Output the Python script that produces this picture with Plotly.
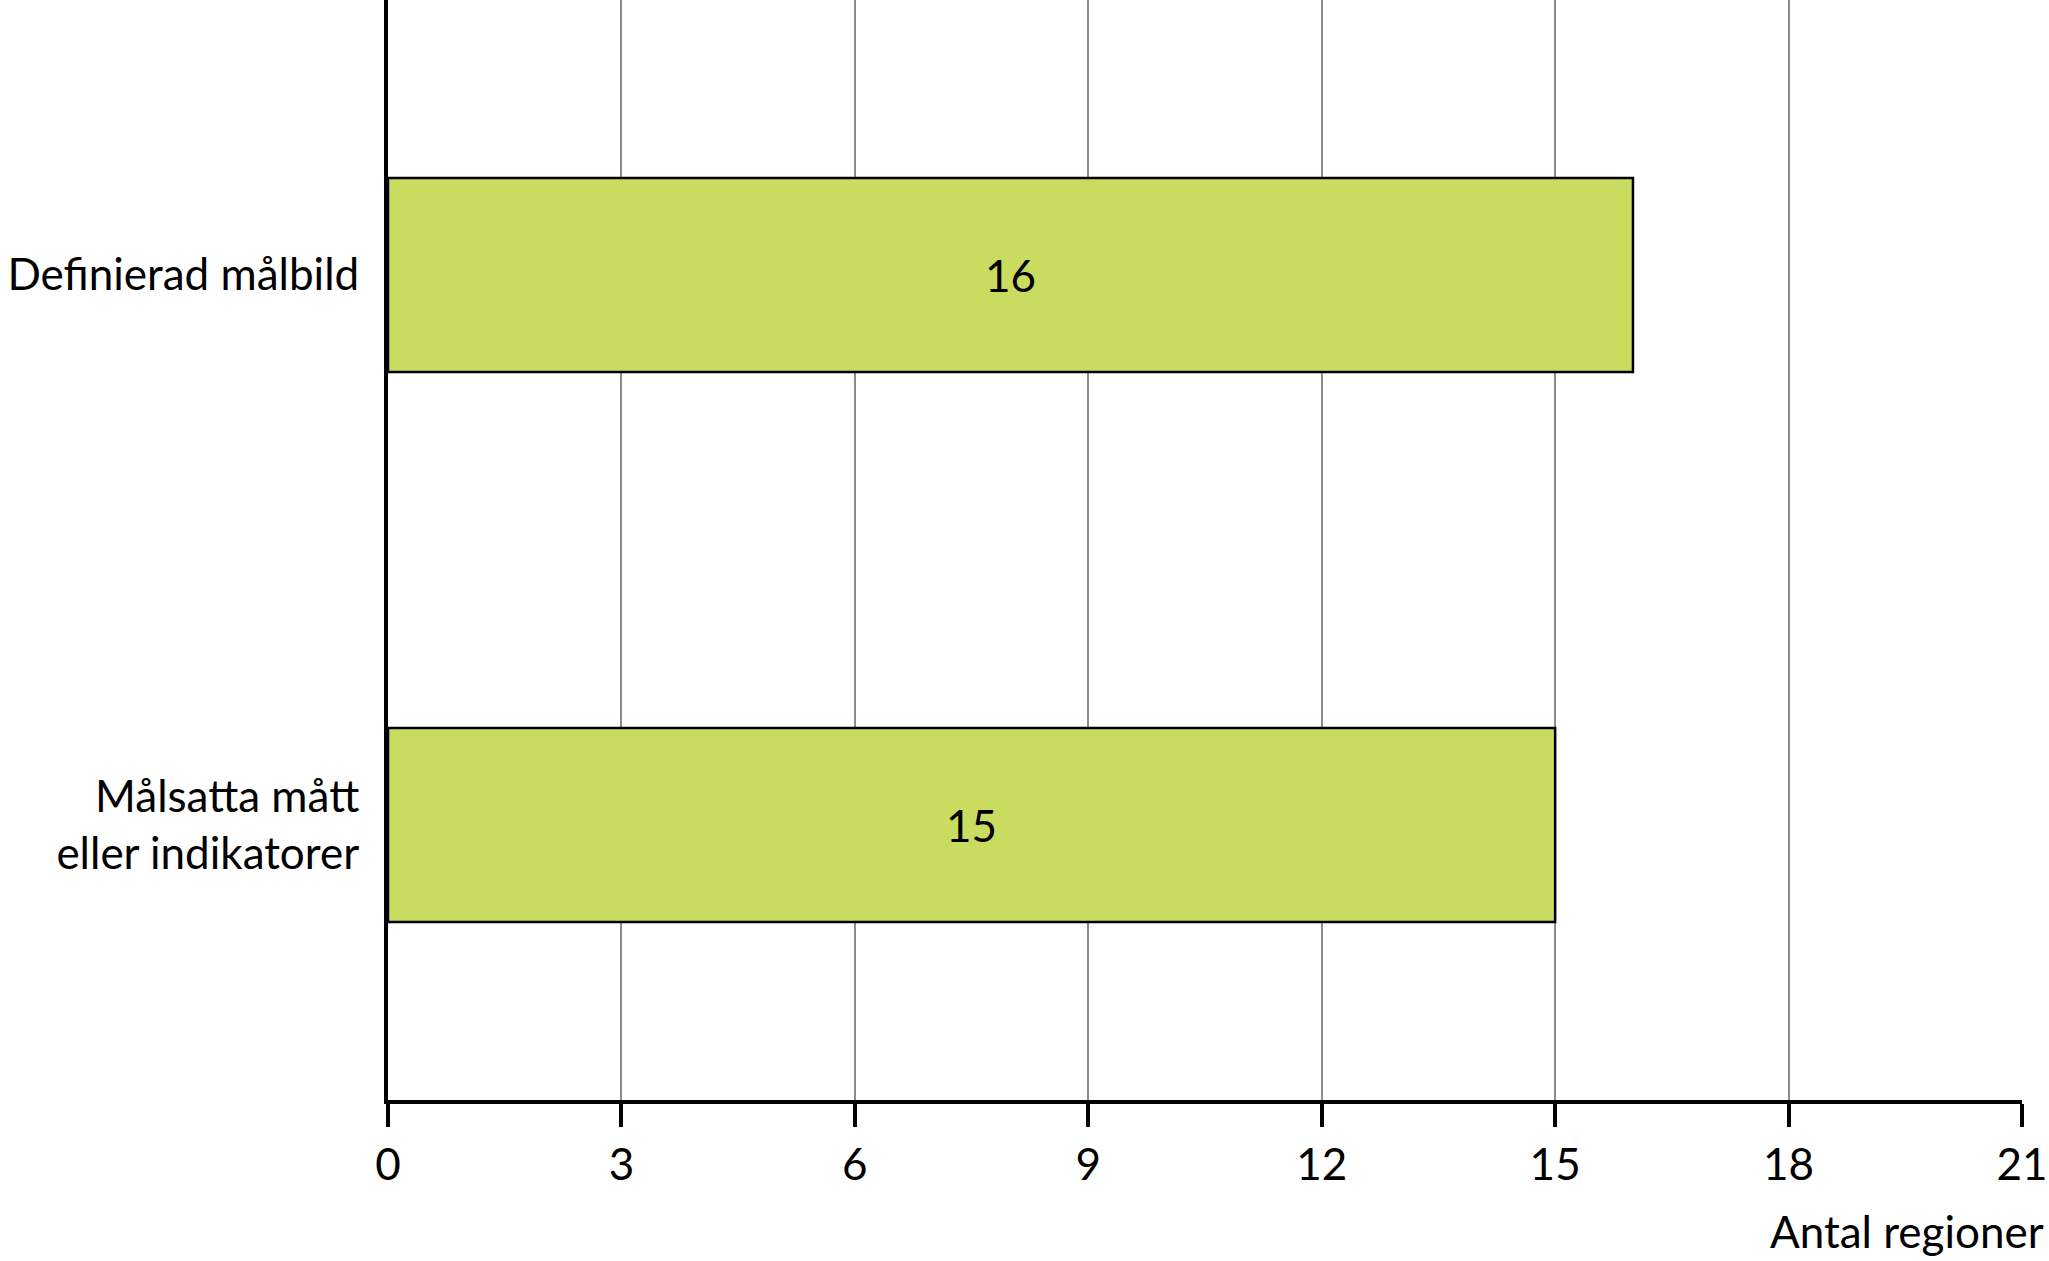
import plotly.graph_objects as go

categories = ["Definierad målbild", "Målsatta mått<br>eller indikatorer"]
values = [16, 15]
x_ticks = [0, 3, 6, 9, 12, 15, 18, 21]
x_title = "Antal regioner"

FONT = "Lato"
FS = 44
fig = go.Figure()
fig.add_trace(go.Bar(
    y=categories, x=values, orientation="h",
    marker=dict(color="#CADC60", line=dict(color="#000000", width=2.5)),
    width=0.353,
    text=[str(v) for v in values], textposition="inside", insidetextanchor="middle",
    textfont=dict(family=FONT, size=FS, color="#000000"),
    hoverinfo="skip",
))
fig.update_layout(
    width=2049, height=1261,
    margin=dict(l=388, r=27, t=0, b=161, pad=0),
    paper_bgcolor="white", plot_bgcolor="white",
    font=dict(family=FONT, size=FS, color="#000000"),
    showlegend=False,
    xaxis=dict(
        range=[0, 21], tickvals=x_ticks, ticktext=[str(t) for t in x_ticks],
        showgrid=True, gridcolor="#8C8C8C", gridwidth=1.6,
        showline=True, linecolor="#000000", linewidth=4,
        ticks="outside", ticklen=23, tickwidth=3.5, tickcolor="#000000",
        tickfont=dict(family=FONT, size=FS, color="#000000"),
        zeroline=False, fixedrange=True,
    ),
    yaxis=dict(
        range=[1.5, -0.5], type="category",
        showgrid=False, showline=True, linecolor="#000000", linewidth=4,
        ticks="", ticklabelstandoff=16,
        tickfont=dict(family=FONT, size=FS, color="#000000"),
        zeroline=False, fixedrange=True,
    ),
    annotations=[dict(
        text=x_title, xref="paper", yref="paper", x=1.0145, y=-0.119,
        xanchor="right", yanchor="middle", showarrow=False,
        font=dict(family=FONT, size=FS, color="#000000"),
    )],
)
fig.write_html(
    "out.html",
    config={"displayModeBar": False},
    post_script="document.body.style.margin='0';document.body.style.overflow='hidden';",
)
